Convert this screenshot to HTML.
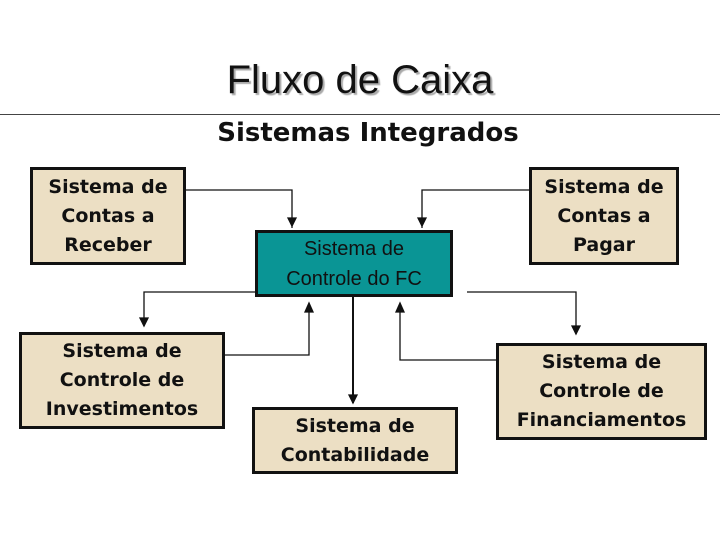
<!DOCTYPE html>
<html><head><meta charset="utf-8"><style>
body{margin:0;width:720px;height:540px;background:#fff;position:relative;overflow:hidden;font-family:"Liberation Sans",sans-serif}
.b{position:absolute;box-sizing:border-box;border:3px solid #111;background:#ecdfc4;display:flex;align-items:center;justify-content:center;text-align:center;font-family:Verdana,"DejaVu Sans",sans-serif;font-weight:bold;font-size:19px;line-height:29px;color:#111}
.c{background:#0a9595;font-family:"Liberation Sans",sans-serif;font-weight:normal;font-size:20px;line-height:30px}
</style></head><body>
<div style="position:absolute;left:0;top:58px;width:720px;text-align:center;font-size:40px;color:#111;text-shadow:2px 2px 1px #aaa;">Fluxo de Caixa</div>
<div style="position:absolute;left:0;top:114px;width:720px;height:1px;background:#444"></div>
<div style="position:absolute;left:8px;top:118px;width:720px;text-align:center;font-family:Verdana,'DejaVu Sans',sans-serif;font-weight:bold;font-size:26px;color:#111">Sistemas Integrados</div>
<svg width="720" height="540" style="position:absolute;left:0;top:0">
<defs><marker id="a" markerWidth="8" markerHeight="8" refX="4" refY="6" orient="auto-start-reverse" markerUnits="userSpaceOnUse"><path d="M0,0 L8,0 L4,7 z" fill="#111"/></marker></defs>
<g fill="none" stroke="#111" stroke-width="1.3">
<polyline points="185,190 292,190 292,228"/><path d="M288,218 L296,218 L292,226 z" fill="#111"/>
<polyline points="529,190 422,190 422,228"/><path d="M418,218 L426,218 L422,226 z" fill="#111"/>
<polyline points="258,292 144,292 144,326"/><path d="M140,318 L148,318 L144,326 z" fill="#111"/>
<polyline points="224,355 309,355 309,305"/><path d="M305,312 L313,312 L309,303 z" fill="#111"/>
<polyline points="353,297 353,403" stroke-width="2"/><path d="M349,395 L357,395 L353,403 z" fill="#111"/>
<polyline points="496,360 400,360 400,305"/><path d="M396,312 L404,312 L400,303 z" fill="#111"/>
<polyline points="467,292 576,292 576,334"/><path d="M572,326 L580,326 L576,334 z" fill="#111"/>
</g></svg>
<div class="b" style="left:30px;top:167px;width:156px;height:98px">Sistema de<br>Contas a<br>Receber</div>
<div class="b c" style="left:255px;top:230px;width:198px;height:67px">Sistema de<br>Controle do FC</div>
<div class="b" style="left:529px;top:167px;width:150px;height:98px">Sistema de<br>Contas a<br>Pagar</div>
<div class="b" style="left:19px;top:332px;width:206px;height:97px">Sistema de<br>Controle de<br>Investimentos</div>
<div class="b" style="left:252px;top:407px;width:206px;height:67px">Sistema de<br>Contabilidade</div>
<div class="b" style="left:496px;top:343px;width:211px;height:97px">Sistema de<br>Controle de<br>Financiamentos</div>
</body></html>
